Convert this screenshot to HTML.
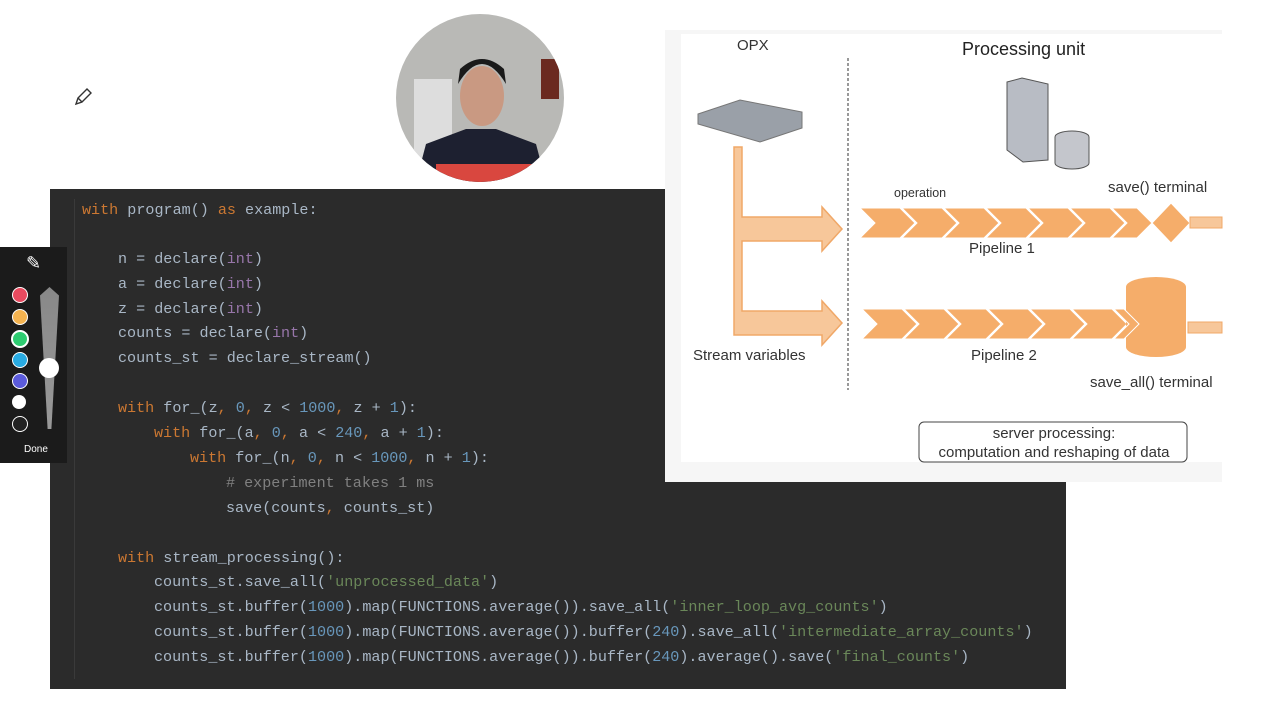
<!DOCTYPE html>
<html><head><meta charset="utf-8"><style>
body{margin:0;width:1280px;height:720px;background:#fff;position:relative;overflow:hidden;font-family:"Liberation Sans",sans-serif}
#code{position:absolute;left:50px;top:189px;width:1016px;height:500px;background:#2b2b2b}
.ln{position:absolute;font-family:"Liberation Mono",monospace;font-size:15.1px;color:#a9b7c6;white-space:pre;height:20px;line-height:20px}
.k{color:#cc7832}.p{color:#9876aa}.n{color:#6897bb}.s{color:#6a8759}.c{color:#808080}
#tb{position:absolute;left:0;top:247px;width:67px;height:216px;background:#1b1b1b}
.dot{position:absolute;left:12px;width:14px;height:14px;border-radius:50%}
</style></head><body>
<svg style="position:absolute;left:72px;top:86px" width="22" height="22"><path d="M4 18 L6 12 L15 3 L19 7 L10 16 Z M6 12 L10 16" fill="none" stroke="#333" stroke-width="1.4"/></svg>
<svg style="position:absolute;left:396px;top:14px" width="168" height="168">
<defs><clipPath id="cc"><circle cx="84" cy="84" r="84"/></clipPath></defs>
<g clip-path="url(#cc)">
<rect width="168" height="168" fill="#b9b9b6"/>
<rect x="18" y="65" width="38" height="80" fill="#ddd"/>
<rect x="145" y="45" width="18" height="40" fill="#6b2a20"/>
<path d="M20 168 L30 130 L70 115 L100 115 L140 130 L150 168Z" fill="#1d2030"/>
<rect x="40" y="150" width="100" height="18" fill="#d9473f"/>
<ellipse cx="86" cy="82" rx="22" ry="30" fill="#c99982"/>
<path d="M62 70 Q86 30 110 70 L108 55 Q86 35 64 55Z" fill="#1a1a1a"/>
</g></svg>
<div id="code">
<div style="position:absolute;left:24px;top:10px;width:1px;height:480px;background:#3a3a3a"></div>
</div>
<div class="ln" style="left:82px;top:200px"><span class="k">with</span> program() <span class="k">as</span> example:</div>
<div class="ln" style="left:118px;top:249px">n = declare(<span class="p">int</span>)</div>
<div class="ln" style="left:118px;top:274px">a = declare(<span class="p">int</span>)</div>
<div class="ln" style="left:118px;top:299px">z = declare(<span class="p">int</span>)</div>
<div class="ln" style="left:118px;top:323px">counts = declare(<span class="p">int</span>)</div>
<div class="ln" style="left:118px;top:348px">counts_st = declare_stream()</div>
<div class="ln" style="left:118px;top:398px"><span class="k">with</span> for_(z<span class="k">,</span> <span class="n">0</span><span class="k">,</span> z &lt; <span class="n">1000</span><span class="k">,</span> z + <span class="n">1</span>):</div>
<div class="ln" style="left:154px;top:423px"><span class="k">with</span> for_(a<span class="k">,</span> <span class="n">0</span><span class="k">,</span> a &lt; <span class="n">240</span><span class="k">,</span> a + <span class="n">1</span>):</div>
<div class="ln" style="left:190px;top:448px"><span class="k">with</span> for_(n<span class="k">,</span> <span class="n">0</span><span class="k">,</span> n &lt; <span class="n">1000</span><span class="k">,</span> n + <span class="n">1</span>):</div>
<div class="ln" style="left:226px;top:473px"><span class="c"># experiment takes 1 ms</span></div>
<div class="ln" style="left:226px;top:498px">save(counts<span class="k">,</span> counts_st)</div>
<div class="ln" style="left:118px;top:548px"><span class="k">with</span> stream_processing():</div>
<div class="ln" style="left:154px;top:572px">counts_st.save_all(<span class="s">'unprocessed_data'</span>)</div>
<div class="ln" style="left:154px;top:597px">counts_st.buffer(<span class="n">1000</span>).map(FUNCTIONS.average()).save_all(<span class="s">'inner_loop_avg_counts'</span>)</div>
<div class="ln" style="left:154px;top:622px">counts_st.buffer(<span class="n">1000</span>).map(FUNCTIONS.average()).buffer(<span class="n">240</span>).save_all(<span class="s">'intermediate_array_counts'</span>)</div>
<div class="ln" style="left:154px;top:647px">counts_st.buffer(<span class="n">1000</span>).map(FUNCTIONS.average()).buffer(<span class="n">240</span>).average().save(<span class="s">'final_counts'</span>)</div>
<div id="tb">
<div style="position:absolute;left:26px;top:6px;color:#fff;font-size:18px">✎</div>
<div class="dot" style="top:40px;background:#e84a5f;border:1px solid #fff"></div>
<div class="dot" style="top:62px;background:#f4b350;border:1px solid #fff"></div>
<div class="dot" style="top:83px;background:#2ecc71;border:2px solid #fff;left:11px"></div>
<div class="dot" style="top:105px;background:#29abe2;border:1px solid #fff"></div>
<div class="dot" style="top:126px;background:#5b5bdb;border:1px solid #fff"></div>
<div class="dot" style="top:148px;background:#fff"></div>
<div class="dot" style="top:169px;background:#222;border:1.5px solid #fff"></div>
<div style="position:absolute;left:40px;top:40px;width:19px;height:142px;background:linear-gradient(#888,#999);clip-path:polygon(0 6%,50% 0,100% 6%,60% 100%,40% 100%)"></div>
<div style="position:absolute;left:39px;top:111px;width:20px;height:20px;border-radius:50%;background:#fff"></div>
<div style="position:absolute;left:24px;top:197px;color:#fff;font-size:10px">Done</div>
</div>
<svg style="position:absolute;left:0;top:0" width="1280" height="720">
<rect x="665" y="30" width="557" height="452" fill="#f6f6f6"/>
<rect x="681" y="34" width="541" height="428" fill="#fff"/>
<text x="737" y="50" font-size="15" fill="#333" font-family="Liberation Sans">OPX</text>
<text x="962" y="55" font-size="18" fill="#222" font-family="Liberation Sans">Processing unit</text>
<line x1="848" y1="58" x2="848" y2="390" stroke="#333" stroke-dasharray="3,2"/>
<path d="M698 114 L740 100 L802 112 L802 128 L760 142 L698 124Z" fill="#9aa0a8" stroke="#777"/>
<path d="M1007 82 L1022 78 L1048 84 L1048 160 L1023 162 L1007 150Z" fill="#b8bcc4" stroke="#555"/>
<path d="M1055 137 a17 6 0 0 1 34 0 v26 a17 6 0 0 1 -34 0Z" fill="#c4c6cc" stroke="#555"/>
<path d="M734 147 h8 v70 h80 v-10 l20 22 l-20 22 v-10 h-80 v70 h80 v-10 l20 22 l-20 22 v-10 h-88Z" fill="#f7c79a" stroke="#f0a868" stroke-width="1.5"/>
<g fill="#f5ad6a" stroke="#fff" stroke-width="1">
<path d="M860 208 h40 l15 15 l-15 15 h-40 l15 -15Z"/><path d="M902 208 h40 l15 15 l-15 15 h-40 l15 -15Z"/><path d="M944 208 h40 l15 15 l-15 15 h-40 l15 -15Z"/><path d="M986 208 h40 l15 15 l-15 15 h-40 l15 -15Z"/><path d="M1028 208 h40 l15 15 l-15 15 h-40 l15 -15Z"/><path d="M1070 208 h40 l15 15 l-15 15 h-40 l15 -15Z"/><path d="M1112 208 h25 l15 15 l-15 15 h-25 l15 -15Z"/>
<path d="M1152 223 l19 -20 l19 20 l-19 20Z"/>
<path d="M862 309 h40 l15 15 l-15 15 h-40 l15 -15Z"/><path d="M904 309 h40 l15 15 l-15 15 h-40 l15 -15Z"/><path d="M946 309 h40 l15 15 l-15 15 h-40 l15 -15Z"/><path d="M988 309 h40 l15 15 l-15 15 h-40 l15 -15Z"/><path d="M1030 309 h40 l15 15 l-15 15 h-40 l15 -15Z"/><path d="M1072 309 h40 l15 15 l-15 15 h-40 l15 -15Z"/>
</g>
<path d="M1126 287 a30 10 0 0 1 60 0 v60 a30 10 0 0 1 -60 0Z" fill="#f5ad6a"/>
<path d="M1114 309 h10 l15 15 l-15 15 h-10 l15 -15Z" fill="#f5ad6a" stroke="#fff"/>
<rect x="1190" y="217" width="32" height="11" fill="#f7c79a" stroke="#f0a868"/>
<rect x="1188" y="322" width="34" height="11" fill="#f7c79a" stroke="#f0a868"/>
<g font-family="Liberation Sans" fill="#333" font-size="15">
<text x="894" y="197" font-size="12.5">operation</text>
<text x="1108" y="192">save() terminal</text>
<text x="969" y="253">Pipeline 1</text>
<text x="971" y="360">Pipeline 2</text>
<text x="693" y="360">Stream variables</text>
<text x="1090" y="387">save_all() terminal</text>
<text x="1054" y="438" text-anchor="middle">server processing:</text>
<text x="1054" y="457" text-anchor="middle">computation and reshaping of data</text>
</g>
<rect x="919" y="422" width="268" height="40" rx="5" fill="none" stroke="#444"/>
</svg>
</body></html>
